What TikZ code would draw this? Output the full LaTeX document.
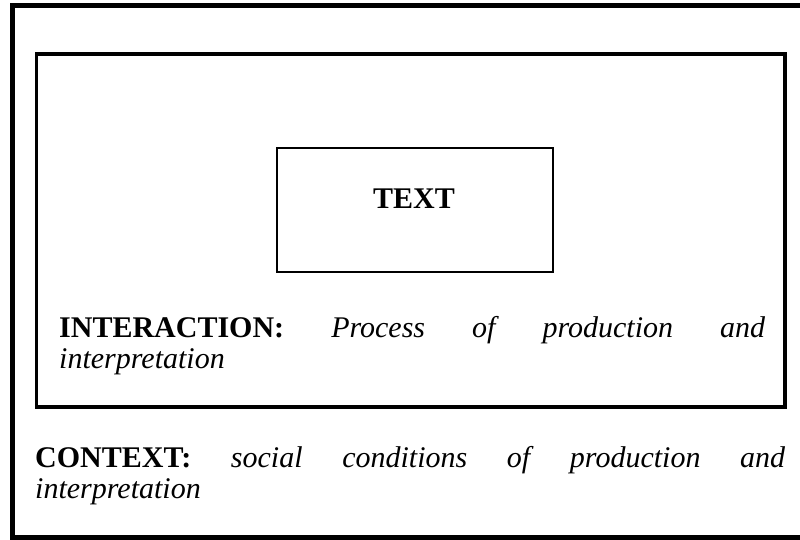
\documentclass[tikz,border=0pt]{standalone}
\usepackage{fontspec}
\setmainfont{Liberation Serif}
\begin{document}
\begin{tikzpicture}[x=1pt,y=-1pt,
    para/.style={anchor=base west, inner sep=0pt, align=justify,
      font=\fontsize{30}{31.5}\selectfont,
      execute at begin node={\hyphenpenalty=10000\relax\tolerance=10000\relax\hbadness=10000\relax}}]
                \useasboundingbox (0,0) rectangle (800,540);
                \def\pw{706} % width of the inner paragraph
                % outer frame (its right side falls off the page)
                \draw [line width=5pt](12,6) rectangle (806,537);
                \draw [line width=3.5pt](36.5,54) rectangle (785,407);
                \draw [line width=2pt](277,148) rectangle (552.5,272);
                \node [inner sep=0pt, font=\fontsize{30}{35}\selectfont\bfseries] (text) at (414,208) [anchor=base] {TEXT};
                \node [para, text width=\pw pt] (interaction) at (59,337)
                  {\textbf{INTERACTION:} \textit{Process of production and\linebreak interpretation}};
                \node [para, text width=750pt] (context) at (35,467)
                  {\textbf{CONTEXT:} \textit{social conditions of production and\linebreak interpretation}};
            \end{tikzpicture}
\end{document}
